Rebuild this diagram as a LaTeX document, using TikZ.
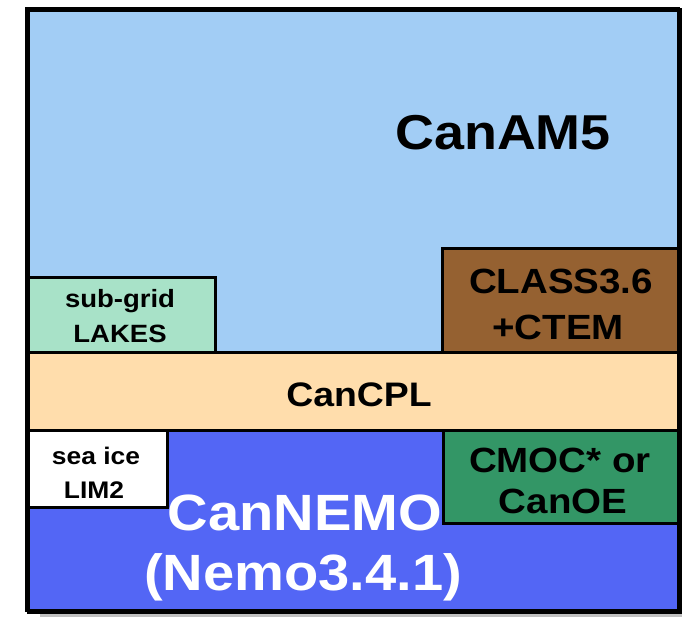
\documentclass[tikz,border=0pt]{standalone}
\usepackage{fontspec}
\setmainfont{Liberation Sans}[FakeStretch=1.1]
\definecolor{atmblue}{RGB}{162,205,245}
\definecolor{lakegreen}{RGB}{168,226,200}
\definecolor{landbrown}{RGB}{149,97,49}
\definecolor{cplpeach}{RGB}{255,221,172}
\definecolor{oceanblue}{RGB}{83,102,245}
\definecolor{bgcgreen}{RGB}{51,150,102}
\definecolor{shadowgray}{RGB}{192,192,192}
\begin{document}
\begin{tikzpicture}[x=1pt,y=-1pt,
  region/.style={draw=black,line width=3pt,anchor=north west,inner sep=0pt,outer sep=0pt},
  lbl/.style={anchor=base,inner sep=0pt,font=\bfseries}]
\useasboundingbox (0,0) rectangle (682,617);
\fill[shadowgray] (40,22) rectangle (700,640);
% regions
\node[region,fill=atmblue,minimum width=651.5pt,minimum height=343.5pt] (canam) at (26.5,8.5) {};
\node[region,fill=oceanblue,minimum width=651.5pt,minimum height=180.5pt] (nemo) at (26.5,430) {};
\node[region,fill=cplpeach,minimum width=651.5pt,minimum height=78pt] (cpl) at (26.5,352) {};
\node[region,fill=lakegreen,minimum width=188.5pt,minimum height=74pt] (lakes) at (26.5,278) {};
\node[region,fill=landbrown,minimum width=236pt,minimum height=103pt] (class) at (442,249) {};
\node[region,fill=white,minimum width=140.5pt,minimum height=77pt] (seaice) at (26.5,430) {};
\node[region,fill=bgcgreen,minimum width=235pt,minimum height=93pt] (cmoc) at (443,430) {};
\node[draw=black,line width=3.5pt,anchor=north west,inner sep=0pt,minimum width=651.5pt,minimum height=602pt] (frame) at (26.5,8.5) {};
% labels
\node[lbl,font=\bfseries\fontsize{49}{58}\selectfont] (tcanam) at (503,150) {CanAM5};
\node[lbl,font=\bfseries\fontsize{25}{34}\selectfont] (tlakes1) at (120,308) {sub-grid};
\node[lbl,font=\bfseries\fontsize{25}{34}\selectfont] (tlakes2) at (120,342) {LAKES};
\node[lbl,font=\bfseries\fontsize{35}{45}\selectfont] (tclass1) at (561,294) {CLASS3.6};
\node[lbl,font=\bfseries\fontsize{35}{45}\selectfont] (tclass2) at (558,339) {+CTEM};
\node[lbl,font=\bfseries\fontsize{34}{40}\selectfont] (tcpl) at (359,406) {CanCPL};
\node[lbl,font=\bfseries\fontsize{24}{34}\selectfont] (tice1) at (96,464) {sea ice};
\node[lbl,font=\bfseries\fontsize{24}{34}\selectfont] (tice2) at (94,498) {LIM2};
\node[lbl,font=\bfseries\fontsize{35}{41}\selectfont] (tcmoc1) at (560,472) {CMOC* or};
\node[lbl,font=\bfseries\fontsize{35}{41}\selectfont] (tcmoc2) at (563,513) {CanOE};
\node[lbl,text=white,font=\bfseries\fontsize{51}{61}\selectfont] (tnemo1) at (305,530) {CanNEMO};
\node[lbl,text=white,font=\bfseries\fontsize{51}{61}\selectfont] (tnemo2) at (303,590) {(Nemo3.4.1)};
\end{tikzpicture}
\end{document}
